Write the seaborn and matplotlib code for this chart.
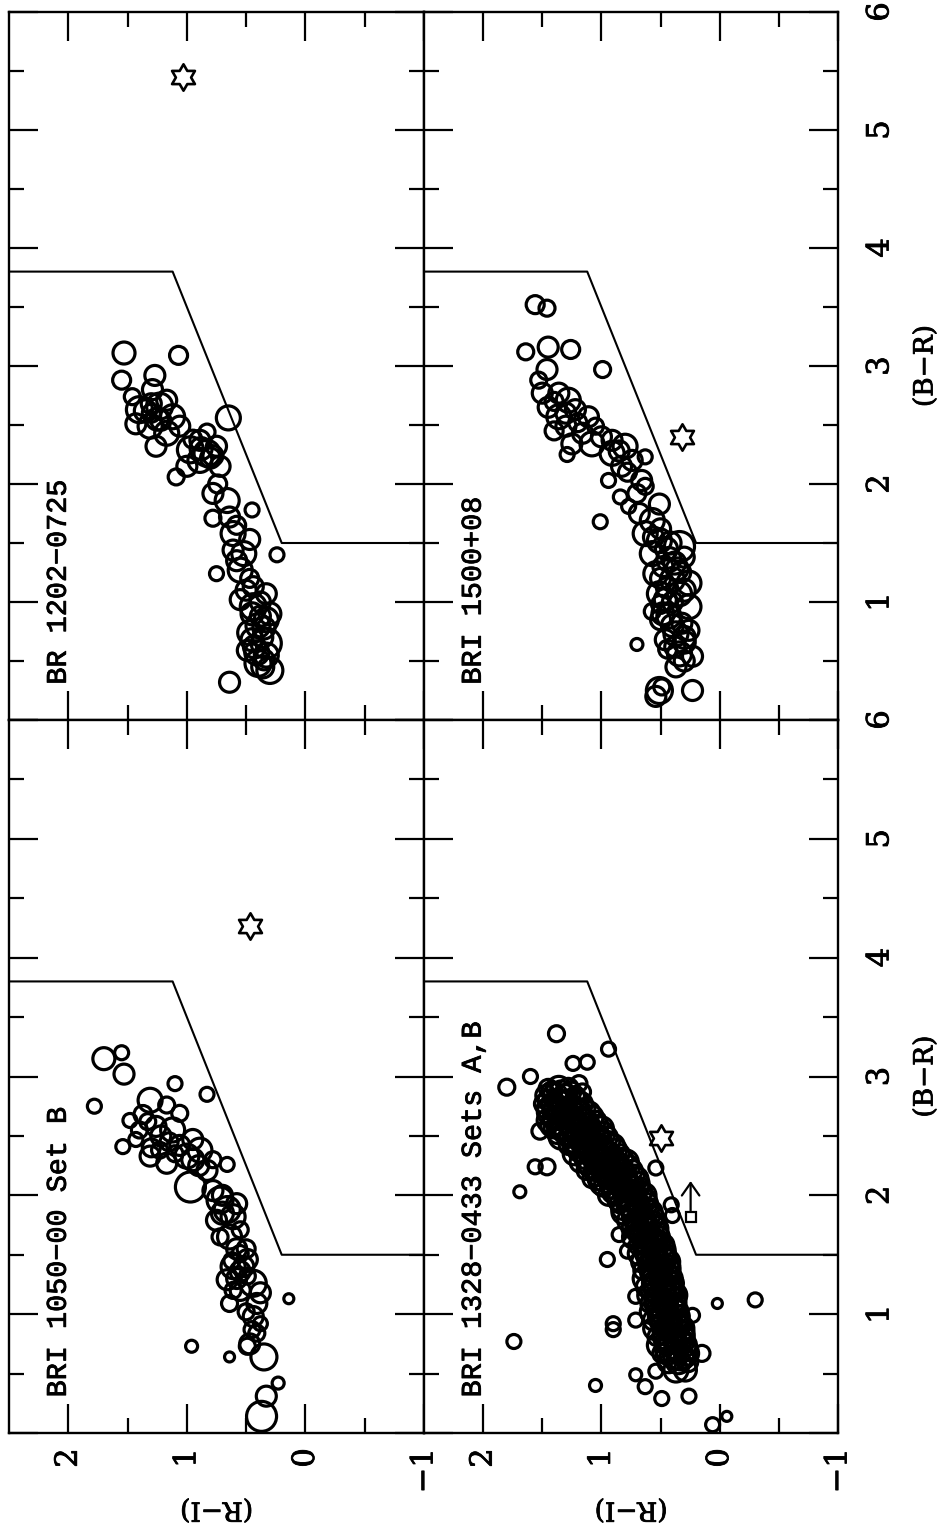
import numpy as np
import pandas as pd
import matplotlib
matplotlib.use("Agg")
import matplotlib.pyplot as plt
import matplotlib.patheffects as pe
from matplotlib.path import Path
import seaborn as sns

# ---------------------------------------------------------------------------
# Colour-colour data: (B-R), (R-I) and symbol radius class for each field
# ---------------------------------------------------------------------------
br_1202 = [3.11, 3.09, 2.88, 2.92, 2.74, 2.63, 2.66, 2.57, 2.49, 2.43,
           2.49, 2.32, 2.51, 2.80, 2.56, 2.44, 2.29, 2.26, 2.32, 2.20,
           2.06, 2.15, 2.15, 1.92, 1.86, 1.78, 1.71, 1.72, 1.58, 1.41,
           1.27, 1.40, 1.24, 1.13, 1.07, 0.96, 0.85, 0.74, 0.65, 0.57,
           0.42, 0.32, 0.51, 0.59, 1.02, 0.88, 1.44, 1.53, 2.37, 2.71,
           2.60, 2.38, 2.00, 1.65, 1.20, 0.80, 0.70, 0.48, 2.54, 2.22,
           0.62, 0.90, 0.90, 0.78, 0.68, 0.55, 0.45, 1.00, 1.10, 2.30,
           2.24, 2.62, 2.55, 2.68, 1.35]
ri_1202 = [1.53, 1.07, 1.55, 1.27, 1.46, 1.40, 1.23, 1.12, 1.31, 1.17,
           1.06, 1.26, 1.43, 1.29, 0.65, 0.83, 0.97, 0.83, 0.75, 0.89,
           1.09, 1.00, 0.72, 0.78, 0.66, 0.45, 0.78, 0.64, 0.61, 0.52,
           0.55, 0.24, 0.75, 0.44, 0.33, 0.44, 0.33, 0.47, 0.33, 0.41,
           0.30, 0.64, 0.35, 0.49, 0.55, 0.38, 0.61, 0.47, 0.89, 1.17,
           1.30, 0.95, 0.74, 0.58, 0.47, 0.40, 0.36, 0.40, 1.22, 0.80,
           0.43, 0.45, 0.30, 0.35, 0.45, 0.33, 0.36, 0.38, 0.50, 0.88,
           0.78, 1.35, 1.25, 1.30, 0.58]
sym_1202 = [11, 9, 9, 10, 8, 13, 13, 12, 12, 12,
            10, 10, 10, 10, 12, 8, 13, 13, 10, 12,
            8, 10, 10, 10, 12, 7, 8, 10, 12, 12,
            12, 7, 7, 10, 10, 13, 12, 12, 15, 12,
            13, 10, 10, 10, 10, 10, 10, 10, 10, 10,
            9, 9, 9, 9, 9, 12, 10, 13, 10, 10,
            11, 11, 11, 11, 11, 12, 11, 10, 10, 11,
            10, 11, 11, 10, 10]

br_1050 = [3.15, 3.20, 3.02, 2.94, 2.85, 2.75, 2.80, 2.76, 2.68, 2.63,
           2.58, 2.55, 2.47, 2.41, 2.33, 2.27, 2.42, 2.33, 2.38, 2.21,
           2.07, 2.26, 1.96, 1.88, 1.82, 1.79, 1.65, 1.51, 1.40, 1.46,
           1.29, 1.26, 1.20, 1.09, 1.09, 0.98, 0.87, 0.75, 0.64, 0.73,
           1.13, 0.73, 0.64, 0.42, 0.31, 0.14, 2.04, 1.93, 1.71, 1.65,
           1.32, 1.18, 1.20, 0.84, 2.38, 2.69, 2.55, 2.30, 2.47, 1.36,
           1.45, 1.55, 2.45, 2.35, 2.62, 1.02, 0.92, 2.50, 2.40, 2.30,
           2.25, 1.40, 1.30, 1.55, 1.85, 2.00]
ri_1050 = [1.70, 1.55, 1.53, 1.10, 0.83, 1.78, 1.31, 1.17, 1.37, 1.48,
           1.26, 1.12, 1.43, 1.54, 1.31, 1.17, 1.06, 1.00, 0.89, 0.83,
           0.97, 0.66, 0.72, 0.66, 0.61, 0.75, 0.64, 0.55, 0.61, 0.49,
           0.66, 0.44, 0.55, 0.64, 0.41, 0.44, 0.45, 0.47, 0.35, 0.49,
           0.14, 0.96, 0.64, 0.23, 0.33, 0.37, 0.78, 0.58, 0.55, 0.72,
           0.49, 0.38, 0.61, 0.41, 1.23, 1.06, 1.40, 0.78, 0.95, 0.55,
           0.62, 0.58, 1.15, 1.10, 1.33, 0.50, 0.38, 1.22, 1.30, 0.95,
           0.90, 0.52, 0.58, 0.50, 0.70, 0.70]
sym_1050 = [11, 7, 10, 7, 7, 7, 12, 8, 9, 7,
            10, 12, 7, 7, 10, 10, 10, 12, 12, 10,
            15, 7, 13, 13, 12, 10, 12, 8, 12, 10,
            10, 13, 10, 8, 10, 10, 8, 10, 13, 8,
            5, 6, 5, 6, 10, 15, 10, 10, 8, 8,
            8, 10, 8, 8, 8, 8, 8, 8, 10, 10,
            8, 10, 9, 8, 8, 8, 7, 10, 9, 11,
            10, 10, 10, 9, 11, 10]

br_1500 = [3.52, 3.49, 3.12, 3.16, 3.14, 2.97, 2.97, 2.88, 2.77, 2.77,
           2.71, 2.65, 2.57, 2.63, 2.57, 2.49, 2.43, 2.34, 2.25, 2.34,
           2.49, 2.37, 2.32, 2.26, 2.20, 2.23, 2.15, 2.03, 2.03, 1.98,
           1.89, 1.81, 1.83, 1.75, 1.69, 1.68, 1.58, 1.52, 1.47, 1.41,
           1.36, 1.24, 1.19, 1.07, 1.07, 1.16, 0.92, 0.88, 0.96, 0.73,
           0.76, 0.68, 0.64, 0.56, 0.54, 0.25, 0.20, 0.25, 0.45, 1.30,
           1.12, 1.00, 0.82, 0.60, 1.62, 1.92, 2.10, 2.45, 2.70, 1.38,
           0.28, 0.98, 1.50, 1.28, 0.90, 0.66, 1.45, 1.33, 1.20, 1.10,
           1.02, 0.85, 0.80, 0.70, 0.62, 0.50, 1.55, 1.25, 2.28, 2.40,
           2.60, 2.52]
ri_1500 = [1.56, 1.46, 1.64, 1.45, 1.26, 0.99, 1.46, 1.53, 1.50, 1.36,
           1.28, 1.45, 1.36, 1.22, 1.11, 1.30, 1.16, 1.25, 1.29, 1.08,
           1.05, 0.91, 0.80, 0.91, 0.74, 0.63, 0.83, 0.94, 0.66, 0.63,
           0.84, 0.77, 0.51, 0.68, 0.57, 1.01, 0.63, 0.51, 0.34, 0.57,
           0.43, 0.54, 0.40, 0.51, 0.34, 0.26, 0.57, 0.43, 0.26, 0.37,
           0.26, 0.46, 0.70, 0.34, 0.23, 0.51, 0.54, 0.23, 0.37, 0.48,
           0.45, 0.40, 0.32, 0.44, 0.50, 0.70, 0.78, 1.40, 1.40, 0.30,
           0.49, 0.50, 0.42, 0.36, 0.48, 0.30, 0.45, 0.38, 0.50, 0.30,
           0.46, 0.50, 0.40, 0.30, 0.38, 0.30, 0.56, 0.33, 0.85, 1.00,
           1.30, 1.20]
sym_1500 = [9, 8, 8, 10, 9, 8, 10, 8, 10, 10,
            12, 10, 12, 10, 10, 10, 10, 10, 7, 12,
            8, 10, 12, 12, 10, 7, 10, 7, 10, 8,
            7, 7, 10, 10, 12, 7, 12, 12, 15, 12,
            12, 12, 12, 12, 12, 12, 8, 12, 12, 12,
            10, 10, 6, 12, 10, 13, 10, 10, 10, 10,
            10, 10, 10, 9, 10, 9, 9, 9, 9, 10,
            8, 9, 11, 11, 11, 11, 11, 11, 10, 11,
            11, 10, 11, 11, 10, 10, 10, 10, 10, 10,
            10, 9]

# BRI 1328-0433: scattered objects, then the dense stellar locus
br_1328 = [3.36, 3.23, 3.11, 3.12, 3.00, 2.91, 2.94, 2.87, 2.54, 2.24,
           2.24, 2.03, 1.67, 1.46, 1.53, 1.92, 1.83, 1.15, 0.92, 0.87,
           0.95, 0.77, 0.40, 0.49, 0.39, 0.52, 0.29, 0.31, 0.99, 0.67,
           1.09, 1.12, 0.07, 0.14, 2.23,
           2.90, 2.90, 2.90,
           2.84, 2.84, 2.84, 2.84,
           2.77, 2.77, 2.77, 2.77, 2.77,
           2.70, 2.70, 2.70, 2.70, 2.70,
           2.63, 2.63, 2.63, 2.63, 2.63, 2.63,
           2.56, 2.56, 2.56, 2.56, 2.56, 2.56,
           2.49, 2.49, 2.49, 2.49, 2.49, 2.49,
           2.42, 2.42, 2.42, 2.42, 2.42, 2.42,
           2.35, 2.35, 2.35, 2.35, 2.35, 2.35,
           2.28, 2.28, 2.28, 2.28, 2.28, 2.28,
           2.21, 2.21, 2.21, 2.21, 2.21, 2.21,
           2.14, 2.14, 2.14, 2.14, 2.14, 2.14,
           2.07, 2.07, 2.07, 2.07, 2.07,
           2.00, 2.00, 2.00, 2.00, 2.00,
           1.93, 1.93, 1.93, 1.93,
           1.86, 1.86, 1.86, 1.86,
           1.79, 1.79, 1.79, 1.79,
           1.72, 1.72, 1.72, 1.72,
           1.65, 1.65, 1.65, 1.65,
           1.58, 1.58, 1.58, 1.58,
           1.51, 1.51, 1.51, 1.51,
           1.44, 1.44, 1.44, 1.44,
           1.37, 1.37, 1.37, 1.37,
           1.30, 1.30, 1.30, 1.30,
           1.23, 1.23, 1.23, 1.23,
           1.16, 1.16, 1.16, 1.16,
           1.09, 1.09, 1.09, 1.09,
           1.02, 1.02, 1.02, 1.02,
           0.95, 0.95, 0.95, 0.95,
           0.88, 0.88, 0.88, 0.88,
           0.81, 0.81, 0.81, 0.81,
           0.74, 0.74, 0.74, 0.74,
           0.67, 0.67, 0.67, 0.67,
           0.60, 0.60, 0.60,
           0.53, 0.53,
           2.60, 2.46, 2.32, 2.18, 2.04, 1.90, 1.76, 1.62, 1.48,
           1.34, 1.20, 1.06, 0.92, 0.78, 0.64,
           2.87, 2.87, 2.87,
           2.80, 2.80, 2.80, 2.80,
           2.73, 2.73, 2.73, 2.73, 2.73,
           2.66, 2.66, 2.66, 2.66, 2.66,
           2.59, 2.59, 2.59, 2.59, 2.59, 2.59,
           2.52, 2.52, 2.52, 2.52, 2.52, 2.52,
           2.45, 2.45, 2.45, 2.45, 2.45,
           2.38, 2.38, 2.38, 2.38, 2.38,
           2.31, 2.31, 2.31, 2.31, 2.31,
           2.24, 2.24, 2.24, 2.24, 2.24,
           2.17, 2.17, 2.17, 2.17, 2.17,
           2.10, 2.10, 2.10, 2.10, 2.10,
           2.03, 2.03, 2.03, 2.03,
           1.96, 1.96, 1.96, 1.96,
           1.89, 1.89, 1.89, 1.89,
           1.82, 1.82, 1.82,
           1.75, 1.75, 1.75,
           1.68, 1.68, 1.68,
           1.61, 1.61, 1.61,
           1.54, 1.54, 1.54,
           1.47, 1.47, 1.47,
           1.40, 1.40, 1.40,
           1.33, 1.33, 1.33,
           1.26, 1.26, 1.26,
           1.19, 1.19, 1.19,
           1.12, 1.12, 1.12,
           1.05, 1.05, 1.05,
           0.98, 0.98, 0.98,
           0.91, 0.91, 0.91,
           0.84, 0.84, 0.84,
           0.77, 0.77, 0.77,
           0.70, 0.70, 0.70,
           0.63, 0.63]
ri_1328 = [1.38, 0.94, 1.24, 1.12, 1.60, 1.80, 1.19, 1.16, 1.52, 1.56,
           1.46, 1.69, 0.85, 0.95, 0.78, 0.41, 0.40, 0.71, 0.90, 0.90,
           0.71, 1.74, 1.05, 0.71, 0.63, 0.54, 0.49, 0.26, 0.23, 0.15,
           0.02, -0.30, 0.06, -0.06, 0.54,
           1.28, 1.36, 1.45,
           1.22, 1.31, 1.39, 1.47,
           1.17, 1.25, 1.34, 1.42, 1.49,
           1.10, 1.19, 1.27, 1.36, 1.44,
           1.04, 1.13, 1.21, 1.29, 1.37, 1.45,
           1.00, 1.08, 1.17, 1.25, 1.33, 1.41,
           0.95, 1.03, 1.11, 1.20, 1.27, 1.34,
           0.90, 0.98, 1.06, 1.14, 1.22, 1.28,
           0.84, 0.93, 1.01, 1.09, 1.16, 1.23,
           0.79, 0.87, 0.95, 1.03, 1.11, 1.18,
           0.74, 0.82, 0.90, 0.98, 1.06, 1.13,
           0.70, 0.78, 0.86, 0.94, 1.02, 1.08,
           0.67, 0.75, 0.83, 0.91, 0.99,
           0.64, 0.72, 0.80, 0.88, 0.94,
           0.61, 0.69, 0.77, 0.85,
           0.58, 0.66, 0.74, 0.81,
           0.56, 0.64, 0.71, 0.77,
           0.54, 0.61, 0.69, 0.75,
           0.51, 0.59, 0.66, 0.72,
           0.48, 0.55, 0.63, 0.69,
           0.45, 0.53, 0.61, 0.68,
           0.44, 0.52, 0.60, 0.66,
           0.42, 0.50, 0.58, 0.65,
           0.41, 0.49, 0.57, 0.63,
           0.39, 0.47, 0.55, 0.62,
           0.38, 0.46, 0.54, 0.60,
           0.37, 0.45, 0.53, 0.59,
           0.36, 0.44, 0.52, 0.57,
           0.34, 0.42, 0.50, 0.56,
           0.32, 0.40, 0.48, 0.55,
           0.30, 0.38, 0.46, 0.53,
           0.29, 0.37, 0.45, 0.51,
           0.28, 0.36, 0.44, 0.49,
           0.27, 0.35, 0.43,
           0.29, 0.37,
           1.25, 1.13, 1.05, 0.94, 0.87, 0.73, 0.67, 0.57, 0.50,
           0.47, 0.44, 0.41, 0.38, 0.35, 0.33,
           1.26, 1.34, 1.42,
           1.21, 1.29, 1.37, 1.45,
           1.14, 1.22, 1.30, 1.39, 1.46,
           1.08, 1.16, 1.24, 1.33, 1.40,
           1.03, 1.11, 1.19, 1.27, 1.35, 1.42,
           0.98, 1.06, 1.14, 1.22, 1.30, 1.37,
           0.93, 1.01, 1.09, 1.17, 1.25,
           0.88, 0.96, 1.04, 1.12, 1.19,
           0.82, 0.90, 0.98, 1.06, 1.14,
           0.77, 0.85, 0.93, 1.01, 1.09,
           0.72, 0.80, 0.88, 0.96, 1.04,
           0.69, 0.77, 0.85, 0.93, 1.00,
           0.66, 0.74, 0.82, 0.90,
           0.63, 0.71, 0.79, 0.86,
           0.60, 0.68, 0.76, 0.82,
           0.57, 0.65, 0.73,
           0.55, 0.63, 0.71,
           0.53, 0.60, 0.68,
           0.50, 0.57, 0.65,
           0.47, 0.54, 0.62,
           0.45, 0.53, 0.61,
           0.43, 0.51, 0.59,
           0.42, 0.50, 0.58,
           0.40, 0.48, 0.56,
           0.39, 0.47, 0.55,
           0.38, 0.46, 0.54,
           0.37, 0.45, 0.53,
           0.35, 0.43, 0.51,
           0.33, 0.41, 0.49,
           0.31, 0.39, 0.47,
           0.30, 0.38, 0.46,
           0.29, 0.37, 0.45,
           0.30, 0.38]
sym_1328 = [8, 7, 7, 7, 7, 8, 8, 8, 8, 7,
            8, 6, 7, 7, 7, 7, 7, 7, 7, 7,
            7, 7, 6, 6, 7, 7, 7, 7, 7, 8,
            5, 7, 7, 5, 7,
            10, 12, 9,
            9, 11, 12, 10,
            11, 9, 12, 10, 9,
            10, 12, 9, 11, 12,
            9, 11, 10, 12, 9, 11,
            12, 9, 11, 10, 12, 9,
            10, 12, 9, 11, 10, 12,
            11, 9, 12, 10, 11, 9,
            9, 11, 10, 12, 9, 11,
            12, 10, 11, 9, 12, 10,
            10, 11, 9, 12, 10, 9,
            11, 9, 12, 10, 11, 9,
            9, 12, 10, 11, 9,
            12, 10, 11, 9, 10,
            10, 11, 12, 9,
            11, 9, 10, 12,
            9, 12, 10, 11,
            12, 10, 11, 9,
            10, 11, 9, 12,
            11, 12, 10, 9,
            9, 10, 12, 11,
            12, 11, 9, 10,
            10, 12, 11, 9,
            11, 9, 10, 12,
            9, 12, 11, 10,
            12, 10, 9, 11,
            10, 11, 12, 9,
            11, 9, 10, 12,
            9, 12, 11, 10,
            12, 10, 9, 11,
            10, 11, 12, 9,
            11, 9, 10, 12,
            12, 10, 11, 9,
            10, 12, 11,
            11, 12,
            13, 13, 13, 13, 13, 13, 13, 13, 13,
            13, 13, 13, 13, 13, 13,
            10, 11, 10,
            11, 10, 11, 10,
            10, 11, 10, 11, 10,
            11, 10, 11, 10, 11,
            10, 11, 10, 11, 10, 11,
            11, 10, 11, 10, 11, 10,
            10, 11, 10, 11, 10,
            11, 10, 11, 10, 11,
            10, 11, 10, 11, 10,
            11, 10, 11, 10, 11,
            10, 11, 10, 11, 10,
            11, 10, 11, 10, 11,
            10, 11, 10, 11,
            11, 10, 11, 10,
            10, 11, 10, 11,
            11, 10, 11,
            10, 11, 10,
            11, 10, 11,
            10, 11, 10,
            11, 10, 11,
            10, 11, 10,
            11, 10, 11,
            10, 11, 10,
            11, 10, 11,
            10, 11, 10,
            11, 10, 11,
            10, 11, 10,
            11, 10, 11,
            10, 11, 10,
            11, 10, 11,
            10, 11, 10,
            11, 10, 11,
            10, 11]

panel_names = ["BR 1202\u22120725", "BRI 1050\u221200 Set B",
               "BRI 1500+08", "BRI 1328\u22120433 Sets A,B"]
panel_br = [br_1202, br_1050, br_1500, br_1328]
panel_ri = [ri_1202, ri_1050, ri_1500, ri_1328]
panel_sym = [sym_1202, sym_1050, sym_1500, sym_1328]

# the quasar in each field
star_br = [5.45, 4.27, 2.40, 2.48]
star_ri = [1.03, 0.47, 0.32, 0.50]

# candidate with a lower limit on (B-R) in the 1328 field
limit_br = 1.82
limit_br_to = 2.12
limit_ri = 0.246

# colour selection boundary
cut_ri = [2.5, 1.12, 0.20, -1.0]
cut_br = [3.80, 3.80, 1.50, 1.50]

ri_ticks = [2, 1, 0, -1]
ri_tick_labels = ["2", "1", "0", "\u22121"]
br_ticks = [0, 1, 2, 3, 4, 5, 6]
br_tick_labels = ["", "1", "2", "3", "4", "5", "6"]

# ---------------------------------------------------------------------------
sns.set_style("white")
plt.rcParams["font.family"] = ["DejaVu Serif"]
plt.rcParams["text.color"] = "black"
plt.rcParams["axes.edgecolor"] = "black"
plt.rcParams["xtick.color"] = "black"
plt.rcParams["ytick.color"] = "black"
plt.rcParams["axes.labelcolor"] = "black"

W, H = 948, 1531
fig = plt.figure(figsize=(W / 100, H / 100), dpi=100)
fig.patch.set_facecolor("white")


def box(x0, y0, x1, y1):
    return [x0 / W, 1 - y1 / H, (x1 - x0) / W, (y1 - y0) / H]


# panel frames: (left col, right col) x (upper, lower)
boxes = [box(9, 12, 424, 720), box(9, 720, 424, 1433),
         box(424, 12, 838, 720), box(424, 720, 838, 1433)]
bottom_row = [False, True, False, True]
right_col = [False, False, True, True]

# six-pointed star outline
ang = np.deg2rad(90 + 30 * np.arange(12))
rad = np.where(np.arange(12) % 2 == 0, 1.0, 1 / np.sqrt(3))
verts = np.column_stack([rad * np.cos(ang), rad * np.sin(ang)])
verts = np.vstack([verts, verts[:1]])
hexagram = Path(verts, [Path.MOVETO] + [Path.LINETO] * 11 + [Path.CLOSEPOLY])

size_lookup = {r: (1.44 * r) ** 2 for r in range(4, 17)}
mono = ["Liberation Mono", "DejaVu Sans Mono"]
heavy = [pe.withStroke(linewidth=0.6, foreground="black")]

for k in range(4):
    ax = fig.add_axes(boxes[k])
    ax.set_facecolor("white")
    df = pd.DataFrame({"ri": panel_ri[k], "br": panel_br[k], "sym": panel_sym[k]})

    ax.plot(cut_ri, cut_br, color="black", lw=1.5, zorder=2)
    sns.scatterplot(data=df, x="ri", y="br", size="sym", sizes=size_lookup,
                    marker="o", facecolor="none", edgecolor="black",
                    linewidth=2.3, legend=False, ax=ax, zorder=3)
    ax.plot([star_ri[k]], [star_br[k]], marker=hexagram, markersize=19,
            mfc="none", mec="black", mew=1.9, ls="none", zorder=4)

    if k == 3:
        ax.plot([limit_ri], [limit_br], marker="s", markersize=7,
                mfc="none", mec="black", mew=1.6, ls="none", zorder=4)
        ax.annotate("", xy=(limit_ri, limit_br_to), xytext=(limit_ri, limit_br + 0.05),
                    arrowprops=dict(arrowstyle="->,head_length=0.5,head_width=0.35",
                                    lw=1.6, color="black", shrinkA=0, shrinkB=0,
                                    mutation_scale=18))

    ax.text(2.08, 0.30, panel_names[k], rotation=90, ha="center", va="bottom",
            fontsize=20.5, family=mono, zorder=5, path_effects=heavy)

    ax.set_xlim(2.5, -1)
    ax.set_ylim(0, 6)
    ax.set_xticks(ri_ticks)
    ax.set_xticks([1.5, 0.5, -0.5], minor=True)
    ax.set_yticks(br_ticks)
    ax.set_yticks(np.arange(0.5, 6, 1.0), minor=True)
    ax.tick_params(which="major", direction="in", length=21, width=1.6,
                   top=True, bottom=True, left=True, right=True, pad=11)
    ax.tick_params(axis="y", which="major", pad=19)
    ax.tick_params(which="minor", direction="in", length=10.5, width=1.6,
                   top=True, bottom=True, left=True, right=True)
    for sp in ax.spines.values():
        sp.set_linewidth(1.7)
        sp.set_color("black")

    ax.set_xlabel("")
    ax.set_ylabel("")
    if bottom_row[k]:
        ax.set_xticklabels(ri_tick_labels, rotation=90, fontsize=22)
        ax.set_xlabel("(R\u2212I)", rotation=180, fontsize=19,
                      ha="center", va="center", rotation_mode="anchor")
        ax.xaxis.set_label_coords(0.5, -0.108)
        ax.xaxis.label.set_path_effects(heavy)
        for lbl in ax.get_xticklabels():
            lbl.set_path_effects(heavy)
    else:
        ax.tick_params(labelbottom=False)

    ax.tick_params(labelleft=False)
    if right_col[k]:
        ax.tick_params(labelright=True)
        ax.set_yticklabels(br_tick_labels, rotation=90, fontsize=22, va="center")
        ax.yaxis.set_label_position("right")
        ax.set_ylabel("(B\u2212R)", rotation=90, fontsize=19,
                      ha="center", va="center", rotation_mode="anchor")
        ax.yaxis.set_label_coords(1.21, 0.5)
        ax.yaxis.label.set_path_effects(heavy)
        for lbl in ax.get_yticklabels():
            lbl.set_path_effects(heavy)

fig.savefig("out.png", dpi=100, facecolor="white")
